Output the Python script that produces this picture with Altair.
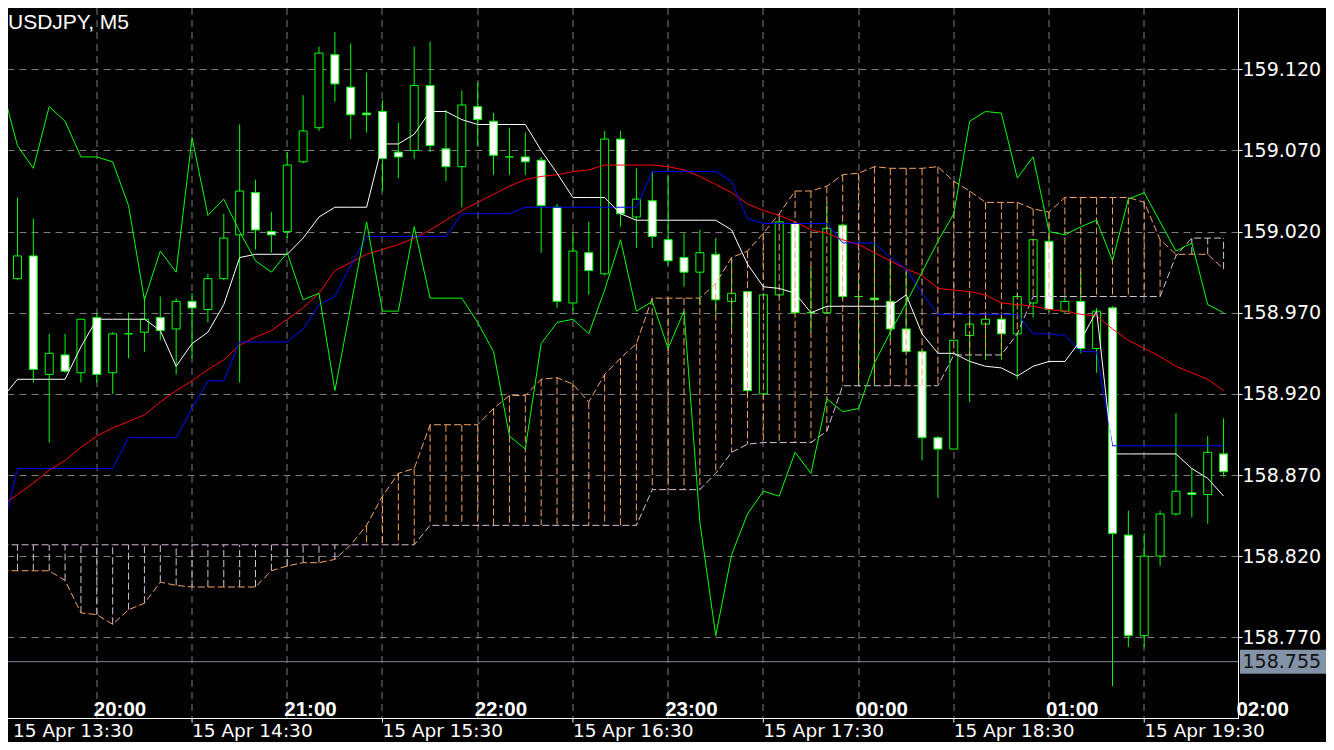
import altair as alt
import pandas as pd

# ---------------- data ----------------
symbol_title = "USDJPY, M5"

opens = [158.991, 159.005, 158.932, 158.944, 158.933, 158.967, 158.933, 158.957, 158.958, 158.967,
         158.960, 158.977, 158.972, 158.991, 159.018, 159.044, 159.020, 159.020, 159.063, 159.084,
         159.129, 159.109, 159.093, 159.094, 159.069, 159.070, 159.110, 159.071, 159.060, 159.097,
         159.088, 159.066, 159.066, 159.064, 159.035, 158.976, 159.007, 158.994, 159.077, 159.029,
         159.039, 159.015, 159.004, 158.995, 159.006, 158.977, 158.983, 158.920, 158.981, 159.025,
         158.970, 158.970, 159.024, 158.980, 158.979, 158.977, 158.960, 158.946, 158.893, 158.886,
         158.956, 158.963, 158.966, 158.957, 158.976, 159.014, 158.971, 158.977, 158.948, 158.973,
         158.833, 158.771, 158.820, 158.846, 158.859, 158.858, 158.883]
highs = [159.041, 159.028, 158.957, 158.957, 158.966, 158.970, 158.958, 158.970, 158.980, 158.980,
         158.979, 158.982, 158.994, 159.031, 159.086, 159.052, 159.032, 159.069, 159.104, 159.134,
         159.143, 159.136, 159.118, 159.101, 159.087, 159.134, 159.137, 159.095, 159.107, 159.112,
         159.093, 159.084, 159.081, 159.066, 159.037, 159.020, 159.026, 159.082, 159.082, 159.059,
         159.057, 159.055, 159.019, 159.021, 159.016, 159.004, 158.983, 158.981, 159.027, 159.026,
         158.998, 159.038, 159.025, 158.992, 159.013, 159.002, 158.995, 158.947, 158.894, 158.953,
         158.967, 158.968, 158.968, 158.982, 159.015, 159.019, 158.981, 158.995, 158.973, 158.974,
         158.848, 158.834, 158.848, 158.908, 158.874, 158.894, 158.905]
lows = [158.990, 158.927, 158.890, 158.933, 158.927, 158.927, 158.920, 158.942, 158.946, 158.953,
        158.932, 158.942, 158.964, 158.990, 158.927, 159.009, 159.007, 159.016, 159.062, 159.082,
        159.100, 159.077, 159.081, 159.045, 159.053, 159.065, 159.069, 159.051, 159.035, 159.073,
        159.055, 159.055, 159.055, 159.007, 158.973, 158.971, 158.981, 158.993, 159.023, 159.010,
        159.010, 158.999, 158.986, 158.975, 158.970, 158.960, 158.920, 158.920, 158.980, 158.969,
        158.958, 158.970, 158.978, 158.925, 158.925, 158.953, 158.946, 158.879, 158.856, 158.886,
        158.915, 158.941, 158.941, 158.929, 158.967, 158.970, 158.970, 158.945, 158.933, 158.740,
        158.764, 158.764, 158.814, 158.845, 158.844, 158.840, 158.869]
closes = [159.005, 158.935, 158.945, 158.934, 158.966, 158.932, 158.957, 158.957, 158.966, 158.959,
          158.977, 158.973, 158.991, 159.016, 159.045, 159.021, 159.018, 159.061, 159.082, 159.130,
          159.111, 159.092, 159.092, 159.065, 159.066, 159.110, 159.073, 159.060, 159.098, 159.089,
          159.067, 159.066, 159.063, 159.036, 158.977, 159.008, 158.996, 159.077, 159.031, 159.040,
          159.017, 159.002, 158.995, 159.007, 158.978, 158.982, 158.922, 158.981, 159.026, 158.970,
          158.970, 159.022, 158.980, 158.980, 158.978, 158.960, 158.946, 158.893, 158.886, 158.953,
          158.963, 158.966, 158.957, 158.980, 159.015, 158.972, 158.977, 158.948, 158.971, 158.834,
          158.771, 158.820, 158.846, 158.860, 158.858, 158.884, 158.872]

# indicator series: the first value belongs to the bar just left of the window (index -1)
ma_red = [158.851, 158.858, 158.865, 158.873, 158.879, 158.887, 158.894, 158.899, 158.903, 158.907,
          158.915, 158.922, 158.928, 158.935, 158.941, 158.950, 158.955, 158.959, 158.966, 158.973,
          158.982, 158.996, 159.001, 159.006, 159.009, 159.012, 159.016, 159.021, 159.027, 159.033,
          159.038, 159.043, 159.048, 159.052, 159.054, 159.055, 159.057, 159.058, 159.061, 159.061,
          159.061, 159.061, 159.060, 159.058, 159.054, 159.049, 159.044, 159.037, 159.033, 159.030,
          159.026, 159.021, 159.019, 159.015, 159.012, 159.007, 159.002, 158.997, 158.993, 158.985,
          158.984, 158.983, 158.981, 158.976, 158.975, 158.974, 158.972, 158.971, 158.969, 158.968,
          158.960, 158.953, 158.948, 158.943, 158.937, 158.933, 158.929, 158.922]
kijun_blue = ([158.833] + [158.874] * 7 + [158.893] * 4 + [158.911] + [158.928] * 2 + [158.952] * 4
              + [158.960, 158.975, 158.980, 158.999] + [159.017] * 6 + [159.031] * 4 + [159.035] * 8
              + [159.057] * 5 + [159.051, 159.028] + [159.025] * 5 + [159.013] * 3
              + [159.004, 158.997, 158.982] + [158.969] * 6 + [158.957, 158.957, 158.956]
              + [158.946] * 2 + [158.888] * 8)
tenkan_white = ([158.917] + [158.929] * 4 + [158.949] + [158.966] * 4
                + [158.959, 158.937, 158.951, 158.958, 158.975, 159.004] + [159.006] * 3
                + [159.016, 159.029] + [159.035] * 3 + [159.074] * 2 + [159.080] + [159.094] * 2
                + [159.089] + [159.086] * 4 + [159.070, 159.056] + [159.041] * 3 + [159.031]
                + [159.027] * 6 + [159.021, 159.000, 158.986, 158.985, 158.982, 158.970]
                + [158.974] * 5 + [158.981, 158.957] + [158.945] * 2
                + [158.940, 158.937, 158.936, 158.931, 158.937] + [158.940] * 2
                + [158.953, 158.971] + [158.883] * 5 + [158.874, 158.868, 158.857])
chikou_green = [159.110, 159.073, 159.059, 159.097, 159.088, 159.066, 159.066, 159.063, 159.036, 158.978,
                159.008, 158.995, 159.078, 159.030, 159.040, 159.020, 159.002, 158.995, 159.007, 158.978,
                158.982, 158.922, 158.974, 159.026, 158.971, 158.971, 159.023, 158.979, 158.979, 158.979,
                158.964, 158.946, 158.894, 158.886, 158.951, 158.964, 158.966, 158.957, 158.984, 159.015,
                158.971, 158.977, 158.948, 158.971, 158.841, 158.771, 158.821, 158.846, 158.860, 158.857,
                158.884, 158.871, 158.917, 158.909, 158.911, 158.939, 158.958, 158.976, 158.995, 159.014,
                159.031, 159.088, 159.094, 159.093, 159.053, 159.066, 159.020, 159.018, 159.023, 159.027,
                159.002, 159.040, 159.044, 159.026, 159.008, 159.013, 158.975, 158.970]
senkou_a = ([158.811] * 4 + [158.805, 158.785, 158.784, 158.778, 158.787, 158.791, 158.804, 158.802]
            + [158.801] * 5 + [158.811, 158.814] + [158.816] * 2
            + [158.818, 158.827, 158.839, 158.857, 158.871, 158.874] + [158.901] * 4 + [158.911]
            + [158.919] * 2 + [158.929, 158.930, 158.926, 158.915, 158.932, 158.942, 158.951]
            + [158.979] * 4 + [158.988, 159.004, 159.008, 159.019, 159.031] + [159.045] * 2
            + [159.048, 159.055, 159.056, 159.060] + [159.059] * 3 + [159.060, 159.051, 159.045]
            + [159.038] * 3 + [159.034, 159.032] + [159.041] * 5 + [159.038, 159.015]
            + [159.006] * 3 + [158.997])
senkou_b = ([158.827] * 27 + [158.839] * 14 + [158.861] * 4 + [158.871, 158.884, 158.889]
            + [158.890] * 4 + [158.897] + [158.925] * 7 + [158.944] * 4 + [158.957]
            + [158.980] * 9 + [159.005] + [159.016] * 3)

price_ticks = [158.770, 158.820, 158.870, 158.920, 158.970, 159.020, 159.070, 159.120]
grid_bars = [5, 11, 17, 23, 29, 35, 41, 47, 53, 59, 65, 71]
date_label_bars = [-1, 11, 23, 35, 47, 59, 71]
date_labels = ["15 Apr 13:30", "15 Apr 14:30", "15 Apr 15:30", "15 Apr 16:30",
               "15 Apr 17:30", "15 Apr 18:30", "15 Apr 19:30"]
hour_label_bars = [5, 17, 29, 41, 53, 65, 77]
hour_labels = ["20:00", "21:00", "22:00", "23:00", "00:00", "01:00", "02:00"]
current_price = 158.755

# ---------------- layout / style ----------------
W, H = 1230, 710
BAR_PX = 16.0
X0_PX = 4.5
X_MIN = -X0_PX / BAR_PX
X_MAX = (W - X0_PX) / BAR_PX
P_TOP = 159.157772
P_BOT = 158.720283

LIME = "#00FF00"
SANDY = "#F4A460"
THISTLE = "#D8BFD8"
GRID = "#7b7b7b"

xs = alt.Scale(domain=[X_MIN, X_MAX], nice=False, zero=False)
ys = alt.Scale(domain=[P_BOT, P_TOP], nice=False, zero=False)

x_axis = alt.Axis(values=grid_bars, grid=True, gridColor=GRID, gridDash=[7, 5], gridWidth=1,
                  labels=False, ticks=False, domain=False, translate=0)
y_axis = alt.Axis(orient="right", values=price_ticks, format=".3f", grid=True, gridColor=GRID,
                  gridDash=[7, 5], gridWidth=1, domain=True, domainColor="white", domainWidth=1,
                  ticks=True, tickColor="white", tickSize=4, tickWidth=1,
                  labelColor="white", labelFont="DejaVu Sans", labelFontSize=19, labelPadding=0,
                  labelAlign="left", labelBaseline="middle", labelOverlap=False, labelFlush=False)


def X(field="idx"):
    return alt.X(f"{field}:Q", scale=xs, axis=x_axis, title=None)


def Y(field):
    return alt.Y(f"{field}:Q", scale=ys, axis=y_axis, title=None)


cdf = pd.DataFrame({"idx": list(range(len(opens))), "o": opens, "h": highs, "l": lows, "c": closes})
ldf = pd.DataFrame({"idx": list(range(-1, len(opens))), "ma": ma_red, "kijun": kijun_blue,
                    "tenkan": tenkan_white, "chikou": chikou_green, "a": senkou_a, "b": senkou_b})
pdf = pd.DataFrame({"p": [current_price], "label": [f"{current_price:.3f}"]})
tdf = pd.DataFrame({"idx": date_label_bars, "label": date_labels})
tdf["pos"] = tdf["idx"].clip(lower=X_MIN)
hdf = pd.DataFrame({"idx": hour_label_bars, "label": hour_labels})
frame_df = pd.DataFrame({"k": [0]})

cur_line = alt.Chart(pdf).mark_rule(color="#778899", strokeWidth=1).encode(y=Y("p"))

wicks = alt.Chart(cdf).mark_rule(color=LIME, strokeWidth=1, clip=True).encode(
    x=X(), y=Y("l"), y2=alt.Y2("h"))
bodies = alt.Chart(cdf).mark_bar(size=8, stroke=LIME, strokeWidth=1, clip=True).encode(
    x=X(), y=Y("o"), y2=alt.Y2("c"),
    fill=alt.condition("datum.c < datum.o", alt.value("white"), alt.value("black")))

hatch = alt.Chart(ldf).transform_filter("datum.idx >= 0 && datum.a != datum.b").mark_rule(
    strokeDash=[7, 3], strokeWidth=1, clip=True).encode(
    x=X(), y=Y("a"), y2=alt.Y2("b"),
    color=alt.condition("datum.a > datum.b", alt.value(SANDY), alt.value(THISTLE)))


def series_line(field, color, dashed=False):
    kw = dict(color=color, strokeWidth=1, clip=True)
    if dashed:
        kw["strokeDash"] = [7, 3]
    return alt.Chart(ldf).mark_line(**kw).encode(x=X(), y=Y(field))


span_a = series_line("a", SANDY, True)
span_b = series_line("b", THISTLE, True)
red = series_line("ma", "#FF0000")
blue = series_line("kijun", "#0000FF")
white = series_line("tenkan", "#FFFFFF")
green = series_line("chikou", LIME)

bottom_frame = alt.Chart(frame_df).mark_rule(color="white", strokeWidth=1).encode(
    x=alt.value(0), x2=alt.value(W + 1), y=alt.value(H + 0.5))
ticks = alt.Chart(tdf).mark_rule(color="white", strokeWidth=1).encode(
    x=X("idx"), y=alt.value(H + 0.5), y2=alt.value(H + 4.5))
date_text = alt.Chart(tdf).mark_text(align="left", baseline="alphabetic", font="DejaVu Sans",
                                     fontSize=18.5, color="white").encode(
    x=X("pos"), y=alt.value(728.5), text="label:N")
hour_text = alt.Chart(hdf).mark_text(align="left", baseline="alphabetic", font="Liberation Sans",
                                     fontWeight="bold", fontSize=20.5, color="white", dx=-3).encode(
    x=X("idx"), y=alt.value(708), text="label:N")
title = alt.Chart(pd.DataFrame({"t": [symbol_title]})).mark_text(
    align="left", baseline="alphabetic", font="Liberation Sans", fontSize=21, color="white").encode(
    x=alt.value(0), y=alt.value(21.3), text="t:N")

cur_box = alt.Chart(pdf).mark_rule(color="#8293a8", strokeWidth=24, strokeCap="butt").encode(
    y=Y("p"), x=alt.value(W + 2), x2=alt.value(W + 88))
cur_text = alt.Chart(pdf).mark_text(align="left", baseline="middle", font="DejaVu Sans",
                                    fontSize=19, color="#111111").encode(
    y=Y("p"), x=alt.value(W + 4.5), text="label:N")

chart = alt.layer(
    cur_line, wicks, bodies, hatch, span_a, span_b, red, blue, white, green,
    bottom_frame, ticks, date_text, hour_text, title, cur_box, cur_text
).properties(
    width=W, height=H,
    padding={"left": 0, "top": 0, "right": 88, "bottom": 24},
    autosize=alt.AutoSizeParams(type="none"),
    background="black",
).configure_view(strokeWidth=0)

chart.save("out.html", embed_options={"renderer": "svg", "actions": False})
